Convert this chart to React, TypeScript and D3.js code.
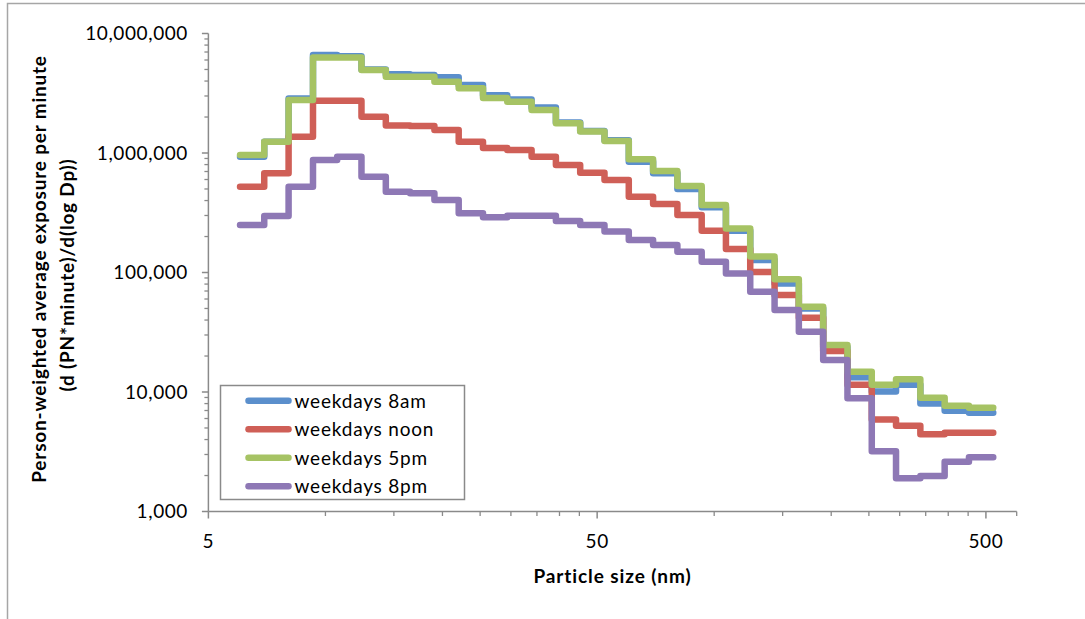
import React, { useEffect, useRef } from "react";
import * as d3 from "d3";

// bin edges (nm) of the size channels, 31 bins
const binEdges = [
  6.03, 6.96, 8.04, 9.29, 10.72, 12.38, 14.3, 16.51, 19.07, 22.02, 25.43,
  29.36, 33.91, 39.16, 45.22, 52.22, 60.3, 69.64, 80.42, 92.87, 107.2, 123.8,
  143.0, 165.1, 190.7, 220.2, 254.3, 293.6, 339.1, 391.6, 452.2, 522.2,
];

const weekdays8am = [
  930000, 1240000, 2860000, 6600000, 6450000, 5000000, 4550000, 4500000,
  4300000, 3700000, 3050000, 2800000, 2400000, 1800000, 1530000, 1280000,
  846000, 676000, 500000, 351000, 224000, 127000, 81000, 50000, 23700, 13300,
  10100, 11500, 8000, 6980, 6700,
];
const weekdaysNoon = [
  522000, 676000, 1370000, 2740000, 2740000, 2010000, 1700000, 1680000,
  1560000, 1240000, 1100000, 1060000, 930000, 794000, 684000, 594000, 431000,
  374000, 303000, 224000, 157000, 101000, 64800, 41900, 22000, 11500, 5900,
  5230, 4430, 4570, 4570,
];
const weekdays5pm = [
  962000, 1240000, 2780000, 6300000, 6300000, 4950000, 4350000, 4350000,
  3950000, 3480000, 2880000, 2690000, 2290000, 1770000, 1510000, 1260000,
  885000, 707000, 530000, 367000, 234000, 136000, 87700, 51800, 24700, 14800,
  11500, 12800, 8960, 7680, 7390,
];
const weekdays8pm = [
  250000, 297000, 522000, 874000, 930000, 634000, 474000, 460000, 404000,
  313000, 290000, 298000, 298000, 270000, 250000, 220000, 187000, 170000,
  149000, 123000, 98000, 69000, 48500, 32000, 18500, 8850, 3200, 1900, 1980,
  2610, 2840,
];

const seriesNames = [
  "weekdays 8am",
  "weekdays noon",
  "weekdays 5pm",
  "weekdays 8pm",
];
const seriesValues = [weekdays8am, weekdaysNoon, weekdays5pm, weekdays8pm];
const seriesColors = ["#5B8FCC", "#CF5F57", "#A6C364", "#8E78B5"];

const yTicks = [1000, 10000, 100000, 1000000, 10000000];
const xTicks = [5, 50, 500];

export default function App() {
  const svgRef = useRef(null);
  const width = 1085;
  const height = 619;
  const font = "Lato, 'Open Sans', sans-serif";
  const axisColor = "#8a8a8a";

  useEffect(() => {
    const svg = d3.select(svgRef.current);
    svg.selectAll("*").remove();

    const x = d3.scaleLog().domain([5, 600]).range([208.4, 1016.7]);
    const y = d3.scaleLog().domain([1000, 10000000]).range([511.5, 33.5]);

    // outer frame (top + left edges visible)
    svg
      .append("path")
      .attr("d", `M7.5,${height} V3.5 H${width}`)
      .attr("fill", "none")
      .attr("stroke", "#a6a6a6")
      .attr("stroke-width", 1.5);

    // minor ticks
    const yMinor = [];
    for (let d = 1000; d < 10000000; d *= 10) {
      for (let k = 2; k <= 9; k++) yMinor.push(d * k);
    }
    const xMinor = [];
    for (let d = 5; d < 600; d *= 10) {
      for (let k = 2; k <= 9; k++) if (d * k <= 600) xMinor.push(d * k);
    }
    xMinor.push(600);

    const g = svg.append("g");
    const ax = x.range()[0];
    const ay = y.range()[0];

    g.selectAll(".ymin")
      .data(yMinor)
      .enter()
      .append("line")
      .attr("x1", ax - 4)
      .attr("x2", ax)
      .attr("y1", (d) => y(d))
      .attr("y2", (d) => y(d))
      .attr("stroke", axisColor)
      .attr("stroke-width", 1.3);

    g.selectAll(".ymaj")
      .data(yTicks)
      .enter()
      .append("line")
      .attr("x1", ax - 6.5)
      .attr("x2", ax)
      .attr("y1", (d) => y(d))
      .attr("y2", (d) => y(d))
      .attr("stroke", axisColor)
      .attr("stroke-width", 1.5);

    g.selectAll(".xmin")
      .data(xMinor)
      .enter()
      .append("line")
      .attr("x1", (d) => x(d))
      .attr("x2", (d) => x(d))
      .attr("y1", ay)
      .attr("y2", ay + 4.5)
      .attr("stroke", axisColor)
      .attr("stroke-width", 1.3);

    g.selectAll(".xmaj")
      .data(xTicks)
      .enter()
      .append("line")
      .attr("x1", (d) => x(d))
      .attr("x2", (d) => x(d))
      .attr("y1", ay)
      .attr("y2", ay + 7)
      .attr("stroke", axisColor)
      .attr("stroke-width", 1.5);

    // axis lines
    g.append("line")
      .attr("x1", ax)
      .attr("x2", ax)
      .attr("y1", y.range()[1])
      .attr("y2", ay)
      .attr("stroke", axisColor)
      .attr("stroke-width", 1.5);
    g.append("line")
      .attr("x1", ax)
      .attr("x2", x.range()[1])
      .attr("y1", ay)
      .attr("y2", ay)
      .attr("stroke", axisColor)
      .attr("stroke-width", 1.5);

    // tick labels
    g.selectAll(".ylab")
      .data(yTicks)
      .enter()
      .append("text")
      .attr("x", 188)
      .attr("y", (d) => y(d))
      .attr("dy", "0.36em")
      .attr("text-anchor", "end")
      .style("font-family", font)
      .style("font-size", "19px")
      .style("letter-spacing", "0.6px")
      .attr("fill", "#000")
      .text((d) => d3.format(",")(d));

    g.selectAll(".xlab")
      .data(xTicks)
      .enter()
      .append("text")
      .attr("x", (d) => x(d))
      .attr("y", 548)
      .attr("text-anchor", "middle")
      .style("font-family", font)
      .style("font-size", "19px")
      .style("letter-spacing", "0.6px")
      .attr("fill", "#000")
      .text((d) => d);

    // axis titles
    g.append("text")
      .attr("x", 612.5)
      .attr("y", 583)
      .attr("text-anchor", "middle")
      .style("font-family", font)
      .style("font-size", "19px")
      .style("font-weight", "bold")
      .style("letter-spacing", "0.9px")
      .text("Particle size (nm)");

    g.append("text")
      .attr("transform", "translate(46,269) rotate(-90)")
      .attr("text-anchor", "middle")
      .style("font-family", font)
      .style("font-size", "19px")
      .style("font-weight", "bold")
      .style("letter-spacing", "0.8px")
      .text("Person-weighted average exposure per minute");

    g.append("text")
      .attr("transform", "translate(74,275) rotate(-90)")
      .attr("text-anchor", "middle")
      .style("font-family", font)
      .style("font-size", "19px")
      .style("font-weight", "bold")
      .style("letter-spacing", "0.8px")
      .text("(d (PN*minute)/d(log Dp))");

    // step lines: each bin drawn flat from its lower edge to its upper edge
    const line = d3
      .line()
      .x((d) => x(d[0]))
      .y((d) => y(d[1]))
      .curve(d3.curveStepAfter);

    seriesValues.forEach((vals, i) => {
      const pts = binEdges.map((e, k) => [e, vals[Math.min(k, vals.length - 1)]]);
      svg
        .append("path")
        .attr("d", line(pts))
        .attr("fill", "none")
        .attr("stroke", seriesColors[i])
        .attr("stroke-width", 6.5)
        .attr("stroke-linecap", "round")
        .attr("stroke-linejoin", "round");
    });

    // legend
    const legend = svg.append("g").attr("transform", "translate(220.5,385.5)");
    legend
      .append("rect")
      .attr("width", 244)
      .attr("height", 114)
      .attr("fill", "#fff")
      .attr("stroke", "#8a8a8a")
      .attr("stroke-width", 1.5);

    const items = legend
      .selectAll(".item")
      .data(seriesNames)
      .enter()
      .append("g")
      .attr("transform", (d, i) => `translate(0, ${15.2 + i * 28.5})`);

    items
      .append("line")
      .attr("x1", 28)
      .attr("x2", 68)
      .attr("stroke", (d, i) => seriesColors[i])
      .attr("stroke-width", 6.5)
      .attr("stroke-linecap", "round");

    items
      .append("text")
      .attr("x", 74)
      .attr("dy", "0.36em")
      .style("font-family", font)
      .style("font-size", "19px")
      .style("letter-spacing", "0.8px")
      .text((d) => d);
  }, []);

  return (
    <svg
      ref={svgRef}
      width={width}
      height={height}
      style={{ position: "absolute", left: 0, top: 0, background: "#fff" }}
    ></svg>
  );
}
